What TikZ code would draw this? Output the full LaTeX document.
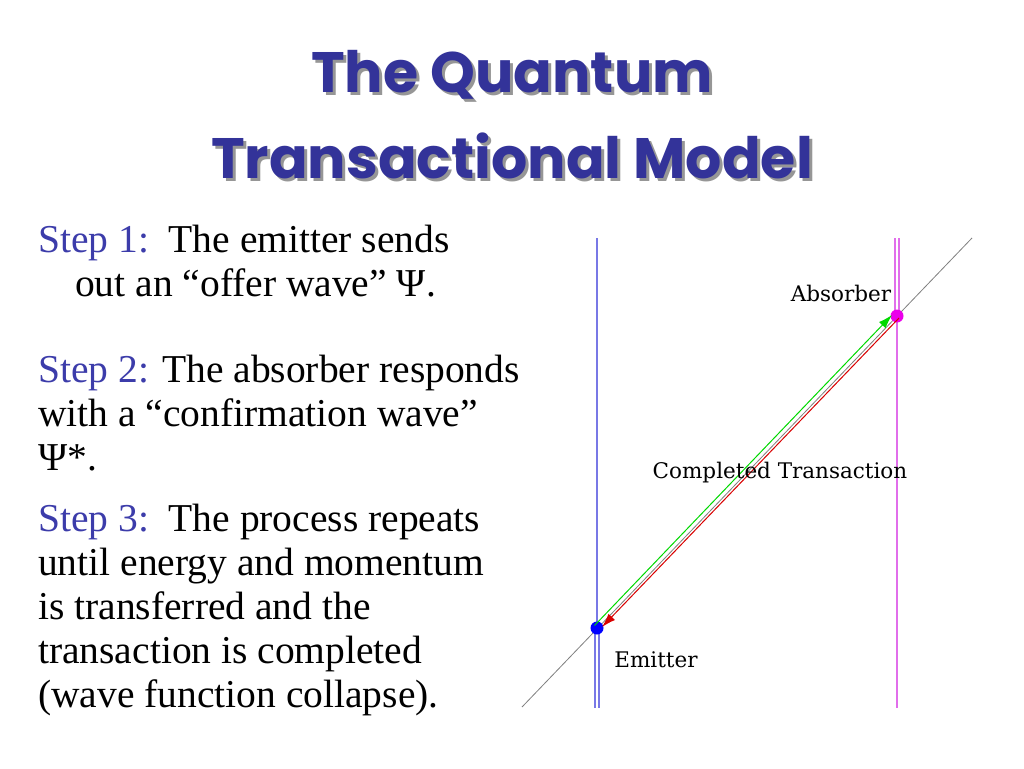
\documentclass[tikz,border=0pt]{standalone}
\usepackage{fontspec}
\setmainfont{Liberation Serif}
\newfontfamily\titlefont{Poppins}
\newfontfamily\labfont{DejaVu Serif}
\usepackage{xcolor}
\usepackage{tikz}
\usetikzlibrary{arrows.meta}
\definecolor{titleblue}{RGB}{51,51,153}
\definecolor{stepblue}{RGB}{60,60,170}
\definecolor{shadowgray}{RGB}{150,150,150}
\definecolor{emitline}{RGB}{120,120,230}
\definecolor{absline}{RGB}{225,110,235}
\definecolor{absdot}{RGB}{235,0,235}
\newcommand{\stp}[1]{\textcolor{stepblue}{#1}}

\begin{document}
\begin{tikzpicture}[x=1pt, y=-1pt,
    body/.style = {anchor=base west, inner sep=0,
      font=\fontsize{39.5}{44}\selectfont},
    ttl/.style = {inner sep=0, anchor=base,
      font=\titlefont\bfseries\fontsize{57}{86}\selectfont},
    lab/.style = {inner sep=0, anchor=base, font=\labfont\fontsize{21.5}{24}\selectfont},
    dot/.style = {circle, inner sep=0, minimum size=12}]
    \useasboundingbox[fill=white] (0,0) rectangle (1024,768);
    % title with its shadow
    \foreach \y/\t in {92/The Quantum, 178/Transactional Model} {
      \node[ttl, text=shadowgray] at (515,\y+3) {\t};
      \node[ttl, text=titleblue] at (512,\y) {\t};
    }
    % the three steps
    \node[body] (S1) at (38,252) {\stp{Step 1:}\ \ The emitter sends};
    \node[body] (S1b) at (75,296) {out an ``offer wave'' Ψ.};
    \node[body] (S2) at (38,382) {\stp{Step 2:} The absorber responds};
    \node[body] (S2b) at (38,426) {with a ``confirmation wave''};
    \node[body] (S2c) at (38,470) {Ψ*.};
    \node[body] (S3) at (38,531) {\stp{Step 3:}\ \ The process repeats};
    \foreach \y/\t in {575/until energy and momentum, 619/is transferred and the,
      663/transaction is completed, 707/(wave function collapse).} {
      \node[body] at (38,\y) {\t};
    }
    % world lines
    \coordinate (et) at (597,238);
    \coordinate (eb) at (597,708);
    \coordinate (at) at (897,238);
    \coordinate (ab) at (897,708);
    \coordinate (dl) at (522,707);
    \coordinate (du) at (972,238);
    \node[dot] (E) at (597,628) {};
    \node[dot] (A) at (897,316) {};
    \draw[gray, line width=0.8] (dl) -- (du);
    \draw[emitline, line width=1.3] (et) -- (E.center);
    \foreach \s in {-2,2} {
      \draw[emitline, line width=1.3] ([xshift=\s]E.center) -- ([xshift=\s]eb);
      \draw[absline, line width=1.3] ([xshift=\s]at) -- ([xshift=\s]A.center);
    }
    \draw[absline, line width=1.3] (A.center) -- (ab);
    \fill[blue] (E) circle[radius=6.5];
    \fill[absdot] (A) circle[radius=6.5];
    % offer and confirmation waves
    \draw[green!85!black, line width=1, -{Latex[length=14, width=9]}]
      ([shift={(-2.5,-2.5)}]E.center) -- ([shift={(-5,-1)}]A.center);
    \draw[red!85!black, line width=1, -{Latex[length=14, width=9]}]
      ([shift={(2,2)}]A.center) -- ([shift={(5,-1)}]E.center);
    % labels
    \node[lab] (la) at (841,301) {Absorber};
    \node[lab] (lc) at (780,478) {Completed Transaction};
    \node[lab] (le) at (656,667) {Emitter};
\end{tikzpicture}
\end{document}
